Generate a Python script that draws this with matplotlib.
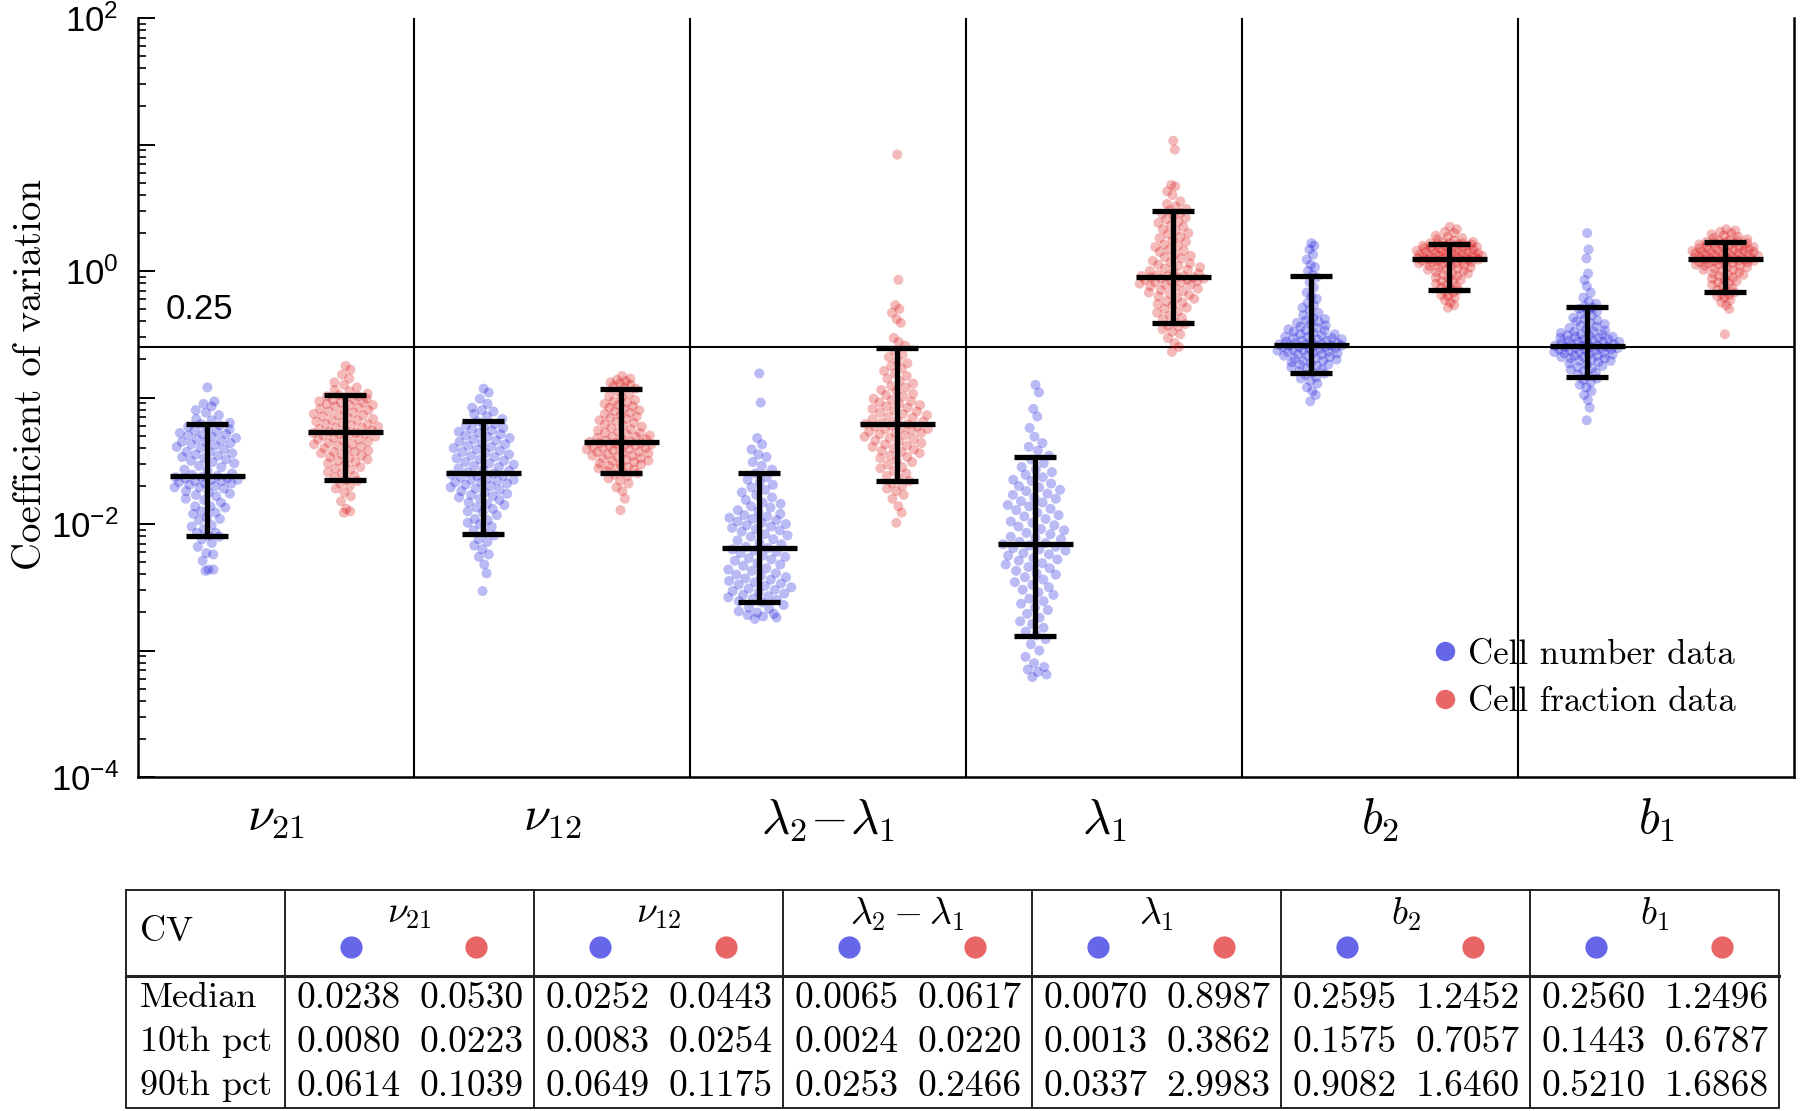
import numpy as np
import matplotlib
matplotlib.use("Agg")
import matplotlib.pyplot as plt
from matplotlib.lines import Line2D
from matplotlib.ticker import FixedLocator, FuncFormatter, LogLocator, NullFormatter

plt.rcParams["font.family"] = "serif"
plt.rcParams["font.serif"] = ["cmr10"]
plt.rcParams["mathtext.fontset"] = "cm"
plt.rcParams["axes.formatter.use_mathtext"] = True

# parameter names (axis and table header)
axis_names = [r"$\nu_{21}$", r"$\nu_{12}$", r"$\lambda_2\!-\!\lambda_1$", r"$\lambda_1$", r"$b_2$", r"$b_1$"]
table_names = [r"$\nu_{21}$", r"$\nu_{12}$", r"$\lambda_2 - \lambda_1$", r"$\lambda_1$", r"$b_2$", r"$b_1$"]
series_labels = ["Cell number data", "Cell fraction data"]

# summary statistics (table)
median_number = [0.0238, 0.0252, 0.0065, 0.0070, 0.2595, 0.2560]
median_fraction = [0.0530, 0.0443, 0.0617, 0.8987, 1.2452, 1.2496]
p10_number = [0.0080, 0.0083, 0.0024, 0.0013, 0.1575, 0.1443]
p10_fraction = [0.0223, 0.0254, 0.0220, 0.3862, 0.7057, 0.6787]
p90_number = [0.0614, 0.0649, 0.0253, 0.0337, 0.9082, 0.5210]
p90_fraction = [0.1039, 0.1175, 0.2466, 2.9983, 1.6460, 1.6868]
threshold = 0.25

# individual CV values (log10 of CV)
nu21_number_log10 = [
    -2.37, -2.36, -2.36, -2.29, -2.24, -2.23, -2.18, -2.15, -2.12, -2.10,
    -2.09, -2.07, -2.07, -2.04, -2.02, -2.01, -1.97, -1.96, -1.95, -1.92,
    -1.91, -1.90, -1.87, -1.86, -1.86, -1.83, -1.81, -1.80, -1.78, -1.77,
    -1.76, -1.75, -1.74, -1.72, -1.71, -1.71, -1.70, -1.69, -1.68, -1.68,
    -1.67, -1.66, -1.66, -1.65, -1.65, -1.64, -1.64, -1.63, -1.63, -1.62,
    -1.61, -1.60, -1.58, -1.57, -1.55, -1.54, -1.52, -1.51, -1.50, -1.49,
    -1.48, -1.47, -1.46, -1.45, -1.44, -1.43, -1.43, -1.41, -1.40, -1.39,
    -1.38, -1.37, -1.36, -1.35, -1.35, -1.34, -1.33, -1.32, -1.31, -1.30,
    -1.29, -1.29, -1.28, -1.27, -1.26, -1.25, -1.24, -1.23, -1.22, -1.21,
    -1.20, -1.18, -1.17, -1.14, -1.12, -1.10, -1.07, -1.05, -1.03, -0.92]
nu21_fraction_log10 = [
    -1.91, -1.90, -1.88, -1.82, -1.78, -1.75, -1.72, -1.70, -1.68, -1.66,
    -1.65, -1.63, -1.62, -1.60, -1.59, -1.57, -1.56, -1.55, -1.53, -1.52,
    -1.51, -1.50, -1.49, -1.48, -1.47, -1.46, -1.45, -1.44, -1.43, -1.43,
    -1.42, -1.41, -1.40, -1.39, -1.38, -1.37, -1.37, -1.36, -1.35, -1.34,
    -1.33, -1.33, -1.32, -1.31, -1.30, -1.30, -1.29, -1.29, -1.28, -1.28,
    -1.27, -1.26, -1.26, -1.25, -1.24, -1.24, -1.23, -1.22, -1.21, -1.21,
    -1.20, -1.19, -1.18, -1.18, -1.17, -1.16, -1.15, -1.14, -1.14, -1.13,
    -1.12, -1.11, -1.10, -1.10, -1.09, -1.08, -1.07, -1.06, -1.06, -1.05,
    -1.04, -1.04, -1.03, -1.02, -1.02, -1.01, -1.00, -0.99, -0.99, -0.98,
    -0.97, -0.95, -0.94, -0.92, -0.90, -0.88, -0.85, -0.82, -0.78, -0.75]
nu12_number_log10 = [
    -2.53, -2.39, -2.32, -2.26, -2.24, -2.20, -2.17, -2.14, -2.12, -2.09,
    -2.07, -2.05, -2.02, -2.00, -1.99, -1.97, -1.96, -1.93, -1.91, -1.90,
    -1.88, -1.87, -1.85, -1.84, -1.83, -1.81, -1.80, -1.79, -1.78, -1.77,
    -1.76, -1.75, -1.74, -1.73, -1.72, -1.71, -1.70, -1.69, -1.68, -1.67,
    -1.67, -1.66, -1.65, -1.65, -1.64, -1.63, -1.62, -1.62, -1.61, -1.60,
    -1.59, -1.58, -1.57, -1.56, -1.55, -1.54, -1.53, -1.52, -1.51, -1.50,
    -1.49, -1.48, -1.47, -1.46, -1.45, -1.44, -1.43, -1.42, -1.41, -1.40,
    -1.39, -1.38, -1.37, -1.36, -1.35, -1.34, -1.33, -1.32, -1.31, -1.30,
    -1.29, -1.28, -1.27, -1.26, -1.25, -1.24, -1.23, -1.22, -1.21, -1.19,
    -1.17, -1.15, -1.13, -1.11, -1.10, -1.08, -1.05, -1.01, -0.96, -0.93]
nu12_fraction_log10 = [
    -1.89, -1.80, -1.74, -1.71, -1.68, -1.66, -1.64, -1.62, -1.61, -1.60,
    -1.59, -1.58, -1.57, -1.56, -1.56, -1.55, -1.54, -1.53, -1.53, -1.52,
    -1.51, -1.50, -1.50, -1.49, -1.48, -1.48, -1.47, -1.46, -1.46, -1.45,
    -1.44, -1.44, -1.43, -1.43, -1.42, -1.41, -1.41, -1.40, -1.40, -1.39,
    -1.39, -1.38, -1.38, -1.37, -1.37, -1.36, -1.36, -1.36, -1.35, -1.35,
    -1.34, -1.33, -1.33, -1.32, -1.31, -1.31, -1.30, -1.29, -1.28, -1.28,
    -1.27, -1.26, -1.25, -1.24, -1.23, -1.22, -1.21, -1.20, -1.19, -1.18,
    -1.17, -1.16, -1.15, -1.14, -1.13, -1.12, -1.11, -1.10, -1.09, -1.08,
    -1.07, -1.06, -1.05, -1.04, -1.03, -1.02, -1.00, -0.99, -0.97, -0.95,
    -0.93, -0.92, -0.91, -0.90, -0.89, -0.88, -0.87, -0.86, -0.85, -0.83]
lamdiff_number_log10 = [
    -2.75, -2.74, -2.73, -2.72, -2.71, -2.70, -2.69, -2.67, -2.66, -2.64,
    -2.62, -2.61, -2.60, -2.59, -2.58, -2.57, -2.56, -2.55, -2.54, -2.53,
    -2.52, -2.51, -2.50, -2.49, -2.48, -2.47, -2.46, -2.45, -2.44, -2.43,
    -2.42, -2.41, -2.40, -2.39, -2.37, -2.36, -2.35, -2.33, -2.32, -2.31,
    -2.29, -2.28, -2.27, -2.26, -2.25, -2.23, -2.22, -2.21, -2.20, -2.19,
    -2.18, -2.16, -2.15, -2.13, -2.12, -2.10, -2.09, -2.08, -2.06, -2.05,
    -2.04, -2.03, -2.02, -2.01, -2.00, -1.99, -1.98, -1.97, -1.96, -1.95,
    -1.94, -1.93, -1.92, -1.90, -1.89, -1.87, -1.86, -1.84, -1.83, -1.81,
    -1.79, -1.77, -1.75, -1.73, -1.71, -1.69, -1.67, -1.65, -1.63, -1.60,
    -1.57, -1.54, -1.51, -1.47, -1.45, -1.41, -1.37, -1.32, -1.04, -0.81]
lamdiff_fraction_log10 = [
    -1.99, -1.91, -1.86, -1.80, -1.77, -1.74, -1.72, -1.70, -1.68, -1.66,
    -1.64, -1.62, -1.60, -1.58, -1.56, -1.55, -1.53, -1.51, -1.50, -1.48,
    -1.47, -1.46, -1.44, -1.43, -1.42, -1.41, -1.40, -1.39, -1.38, -1.37,
    -1.36, -1.35, -1.34, -1.33, -1.32, -1.31, -1.30, -1.29, -1.28, -1.28,
    -1.27, -1.26, -1.25, -1.25, -1.24, -1.23, -1.23, -1.22, -1.21, -1.21,
    -1.20, -1.19, -1.18, -1.17, -1.16, -1.15, -1.14, -1.13, -1.12, -1.11,
    -1.10, -1.09, -1.08, -1.07, -1.06, -1.05, -1.04, -1.03, -1.02, -1.01,
    -0.99, -0.98, -0.97, -0.95, -0.94, -0.92, -0.91, -0.89, -0.87, -0.85,
    -0.83, -0.81, -0.79, -0.77, -0.75, -0.73, -0.71, -0.68, -0.66, -0.63,
    -0.59, -0.56, -0.53, -0.41, -0.38, -0.33, -0.30, -0.27, -0.07, 0.92]
lam1_number_log10 = [
    -3.21, -3.19, -3.17, -3.15, -3.13, -3.10, -3.05, -3.00, -2.95, -2.91,
    -2.88, -2.85, -2.82, -2.79, -2.77, -2.74, -2.71, -2.68, -2.66, -2.63,
    -2.61, -2.59, -2.56, -2.54, -2.52, -2.50, -2.48, -2.46, -2.44, -2.42,
    -2.40, -2.39, -2.37, -2.35, -2.34, -2.32, -2.31, -2.29, -2.28, -2.27,
    -2.25, -2.24, -2.23, -2.21, -2.20, -2.19, -2.18, -2.17, -2.16, -2.15,
    -2.14, -2.12, -2.11, -2.10, -2.08, -2.07, -2.05, -2.04, -2.02, -2.01,
    -1.99, -1.98, -1.96, -1.94, -1.93, -1.91, -1.89, -1.88, -1.86, -1.85,
    -1.83, -1.82, -1.80, -1.79, -1.77, -1.76, -1.74, -1.73, -1.71, -1.70,
    -1.68, -1.66, -1.65, -1.63, -1.61, -1.59, -1.57, -1.55, -1.52, -1.49,
    -1.46, -1.42, -1.39, -1.36, -1.31, -1.24, -1.15, -1.09, -0.96, -0.90]
lam1_fraction_log10 = [
    -0.64, -0.60, -0.57, -0.53, -0.50, -0.48, -0.46, -0.44, -0.43, -0.42,
    -0.40, -0.38, -0.37, -0.35, -0.33, -0.32, -0.30, -0.29, -0.27, -0.26,
    -0.25, -0.24, -0.22, -0.21, -0.20, -0.19, -0.18, -0.17, -0.16, -0.15,
    -0.14, -0.13, -0.12, -0.11, -0.11, -0.10, -0.09, -0.09, -0.08, -0.08,
    -0.07, -0.07, -0.06, -0.06, -0.05, -0.05, -0.05, -0.04, -0.04, -0.04,
    -0.03, -0.02, -0.01, 0.00, 0.01, 0.02, 0.03, 0.04, 0.05, 0.06,
    0.07, 0.08, 0.10, 0.11, 0.12, 0.13, 0.15, 0.16, 0.17, 0.19,
    0.20, 0.21, 0.23, 0.24, 0.26, 0.27, 0.29, 0.30, 0.32, 0.33,
    0.35, 0.36, 0.38, 0.39, 0.41, 0.42, 0.44, 0.45, 0.46, 0.48,
    0.49, 0.51, 0.53, 0.55, 0.60, 0.63, 0.67, 0.68, 0.96, 1.03]
b2_number_log10 = [
    -1.03, -0.98, -0.95, -0.92, -0.89, -0.87, -0.85, -0.84, -0.82, -0.81,
    -0.80, -0.79, -0.78, -0.77, -0.76, -0.75, -0.74, -0.74, -0.73, -0.72,
    -0.71, -0.71, -0.70, -0.69, -0.69, -0.68, -0.67, -0.67, -0.66, -0.66,
    -0.65, -0.65, -0.64, -0.64, -0.63, -0.63, -0.62, -0.62, -0.61, -0.61,
    -0.60, -0.60, -0.60, -0.59, -0.59, -0.59, -0.59, -0.58, -0.58, -0.58,
    -0.57, -0.57, -0.56, -0.56, -0.55, -0.55, -0.54, -0.54, -0.53, -0.53,
    -0.52, -0.52, -0.51, -0.50, -0.50, -0.49, -0.48, -0.47, -0.47, -0.46,
    -0.45, -0.44, -0.43, -0.42, -0.41, -0.40, -0.39, -0.38, -0.37, -0.35,
    -0.33, -0.31, -0.29, -0.27, -0.25, -0.22, -0.20, -0.17, -0.13, -0.09,
    -0.05, -0.03, 0.00, 0.03, 0.05, 0.09, 0.13, 0.17, 0.20, 0.22]
b2_fraction_log10 = [
    -0.29, -0.27, -0.25, -0.23, -0.21, -0.20, -0.19, -0.17, -0.16, -0.15,
    -0.14, -0.13, -0.12, -0.11, -0.10, -0.09, -0.08, -0.07, -0.06, -0.05,
    -0.04, -0.03, -0.02, -0.02, -0.01, 0.00, 0.01, 0.01, 0.02, 0.03,
    0.03, 0.04, 0.04, 0.05, 0.05, 0.06, 0.06, 0.07, 0.07, 0.07,
    0.08, 0.08, 0.08, 0.09, 0.09, 0.09, 0.09, 0.10, 0.10, 0.10,
    0.10, 0.11, 0.11, 0.11, 0.11, 0.12, 0.12, 0.12, 0.12, 0.13,
    0.13, 0.13, 0.14, 0.14, 0.14, 0.15, 0.15, 0.15, 0.16, 0.16,
    0.16, 0.17, 0.17, 0.17, 0.18, 0.18, 0.18, 0.19, 0.19, 0.19,
    0.20, 0.20, 0.20, 0.21, 0.21, 0.21, 0.22, 0.22, 0.22, 0.23,
    0.23, 0.24, 0.25, 0.26, 0.27, 0.28, 0.30, 0.31, 0.33, 0.35]
b1_number_log10 = [
    -1.18, -1.08, -1.02, -0.98, -0.95, -0.92, -0.90, -0.88, -0.86, -0.85,
    -0.83, -0.82, -0.80, -0.79, -0.78, -0.77, -0.76, -0.75, -0.74, -0.73,
    -0.72, -0.71, -0.71, -0.70, -0.69, -0.69, -0.68, -0.68, -0.67, -0.67,
    -0.66, -0.66, -0.65, -0.65, -0.64, -0.64, -0.63, -0.63, -0.62, -0.62,
    -0.62, -0.61, -0.61, -0.61, -0.60, -0.60, -0.60, -0.59, -0.59, -0.59,
    -0.58, -0.58, -0.57, -0.57, -0.56, -0.56, -0.56, -0.55, -0.55, -0.54,
    -0.54, -0.53, -0.53, -0.52, -0.52, -0.51, -0.51, -0.50, -0.50, -0.49,
    -0.48, -0.48, -0.47, -0.46, -0.45, -0.44, -0.43, -0.42, -0.41, -0.40,
    -0.39, -0.38, -0.37, -0.35, -0.34, -0.32, -0.31, -0.30, -0.29, -0.28,
    -0.26, -0.24, -0.21, -0.17, -0.12, -0.07, -0.02, 0.10, 0.17, 0.30]
b1_fraction_log10 = [
    -0.50, -0.30, -0.27, -0.25, -0.23, -0.21, -0.20, -0.19, -0.18, -0.17,
    -0.16, -0.15, -0.13, -0.12, -0.11, -0.10, -0.09, -0.08, -0.07, -0.06,
    -0.05, -0.04, -0.03, -0.03, -0.02, -0.01, 0.00, 0.01, 0.01, 0.02,
    0.03, 0.03, 0.04, 0.04, 0.05, 0.05, 0.06, 0.06, 0.07, 0.07,
    0.07, 0.08, 0.08, 0.08, 0.09, 0.09, 0.09, 0.09, 0.10, 0.10,
    0.10, 0.10, 0.11, 0.11, 0.11, 0.12, 0.12, 0.12, 0.13, 0.13,
    0.13, 0.14, 0.14, 0.14, 0.15, 0.15, 0.15, 0.16, 0.16, 0.16,
    0.17, 0.17, 0.17, 0.18, 0.18, 0.18, 0.19, 0.19, 0.20, 0.20,
    0.20, 0.21, 0.21, 0.22, 0.22, 0.22, 0.23, 0.23, 0.24, 0.24,
    0.25, 0.25, 0.26, 0.27, 0.28, 0.29, 0.30, 0.31, 0.32, 0.33]

number_sets = [nu21_number_log10, nu12_number_log10, lamdiff_number_log10,
               lam1_number_log10, b2_number_log10, b1_number_log10]
fraction_sets = [nu21_fraction_log10, nu12_fraction_log10, lamdiff_fraction_log10,
                 lam1_fraction_log10, b2_fraction_log10, b1_fraction_log10]

BLUE = (0.0, 0.0, 0.85)
RED = (0.85, 0.0, 0.0)


# horizontal spread of the swarm: wider where the points are dense
def swarm_offsets(logv, half_width=0.125, bw=0.08):
    logv = np.asarray(logv, dtype=float)
    dens = np.exp(-0.5 * ((logv[:, None] - logv[None, :]) / bw) ** 2).sum(axis=1)
    dens = dens / dens.max()
    k = np.arange(len(logv))
    u = 2.0 * ((k * 0.6180339887 + 0.37) % 1.0) - 1.0
    return half_width * dens * u


def draw_bar(ax, x0, lo, med, hi):
    kw = dict(color="k", lw=3.8, solid_capstyle="butt", zorder=4)
    ax.plot([x0, x0], [lo, hi], **kw)
    ax.plot([x0 - 0.075, x0 + 0.075], [lo, lo], **kw)
    ax.plot([x0 - 0.075, x0 + 0.075], [hi, hi], **kw)
    ax.plot([x0 - 0.136, x0 + 0.136], [med, med], **kw)


fig = plt.figure(figsize=(18, 11.11), dpi=100)
ax = fig.add_axes([0.0767, 0.3006, 0.92, 0.6832])
ax.set_yscale("log")
ax.set_xlim(0.5, 6.5)
ax.set_ylim(1e-4, 1e2)

for i in range(6):
    xc = i + 1
    for vals, dx, col in [(number_sets[i], -0.25, BLUE), (fraction_sets[i], 0.25, RED)]:
        off = swarm_offsets(vals)
        ax.scatter(xc + dx + off, 10.0 ** np.asarray(vals), s=52, color=col,
                   alpha=0.27, edgecolors="none", zorder=2)
    draw_bar(ax, xc - 0.25, p10_number[i], median_number[i], p90_number[i])
    draw_bar(ax, xc + 0.25, p10_fraction[i], median_fraction[i], p90_fraction[i])

for xd in np.arange(1.5, 6.0, 1.0):
    ax.axvline(xd, color="k", lw=1.5, zorder=5)
ax.axhline(threshold, color="k", lw=1.5, zorder=1)
ax.text(0.6, 0.42, "0.25", fontsize=25, family="Liberation Sans", va="baseline")

for side in ["left", "bottom", "right"]:
    ax.spines[side].set_linewidth(1.8)
ax.spines["top"].set_visible(False)

ax.yaxis.set_major_locator(FixedLocator(10.0 ** np.arange(-4, 3)))
ax.yaxis.set_minor_locator(LogLocator(base=10, subs=np.arange(2, 10), numticks=20))
ax.yaxis.set_minor_formatter(NullFormatter())
ax.yaxis.set_major_formatter(FuncFormatter(
    lambda v, p: r"$\mathregular{10^{%d}}$" % round(np.log10(v)) if round(np.log10(v)) % 2 == 0 else ""))
ax.tick_params(axis="y", which="major", direction="in", length=12, width=1.4, pad=14,
               labelsize=25, right=False)
ax.tick_params(axis="y", which="minor", direction="in", length=6, width=1.2, right=False)
for lab in ax.get_yticklabels():
    lab.set_family("Liberation Sans")

ax.set_xticks(np.arange(1, 7))
ax.set_xticklabels(axis_names, fontsize=35)
ax.tick_params(axis="x", length=0, pad=14)

ax.set_ylabel("Coefficient of variation", fontsize=28)
ax.yaxis.set_label_coords(-0.054, 0.53)

handles = [Line2D([], [], ls="", marker="o", ms=14, mec="none", mfc=BLUE, alpha=0.6),
           Line2D([], [], ls="", marker="o", ms=14, mec="none", mfc=RED, alpha=0.6)]
ax.legend(handles, series_labels, loc="lower left", bbox_to_anchor=(0.779, 0.078),
          frameon=False, fontsize=25, borderaxespad=0, borderpad=0,
          handlelength=1.0, handletextpad=0.15, labelspacing=0.45)

# summary table below the chart
tb = fig.add_axes([126 / 1800, 3 / 1111, 1653 / 1800, 218 / 1111])
tb.set_xlim(0, 1653)
tb.set_ylim(218, 0)
tb.axis("off")
first_w = 158.7
col_w = (1653 - first_w) / 6
head_h = 86
row_h = 44
row_names = ["Median", "10th pct", "90th pct"]
row_number = [median_number, p10_number, p90_number]
row_fraction = [median_fraction, p10_fraction, p90_fraction]
line_kw = dict(color="#222222", lw=1.4, clip_on=False)
tb.plot([0, 1653, 1653, 0, 0], [0, 0, 218, 218, 0], **line_kw)
tb.plot([0, 1653], [head_h, head_h], color="#222222", lw=2.2, clip_on=False)
for j in range(6):
    xl = first_w + j * col_w
    tb.plot([xl, xl], [0, 218], **line_kw)
    tb.text(xl + col_w / 2, 24, table_names[j], fontsize=27, ha="center", va="center")
    tb.plot([xl + 0.265 * col_w], [57], "o", ms=16, mec="none", mfc=BLUE, alpha=0.6)
    tb.plot([xl + 0.77 * col_w], [57], "o", ms=16, mec="none", mfc=RED, alpha=0.6)
    for r in range(3):
        yc = head_h + row_h * (r + 0.5)
        tb.text(xl + 0.255 * col_w, yc, "%.4f" % row_number[r][j], fontsize=27,
                ha="center", va="center")
        tb.text(xl + 0.75 * col_w, yc, "%.4f" % row_fraction[r][j], fontsize=27,
                ha="center", va="center")
tb.text(14, 42, "CV", fontsize=26, ha="left", va="center")
for r in range(3):
    tb.text(14, head_h + row_h * (r + 0.5), row_names[r], fontsize=26, ha="left", va="center")

fig.savefig("out.png", dpi=100)
